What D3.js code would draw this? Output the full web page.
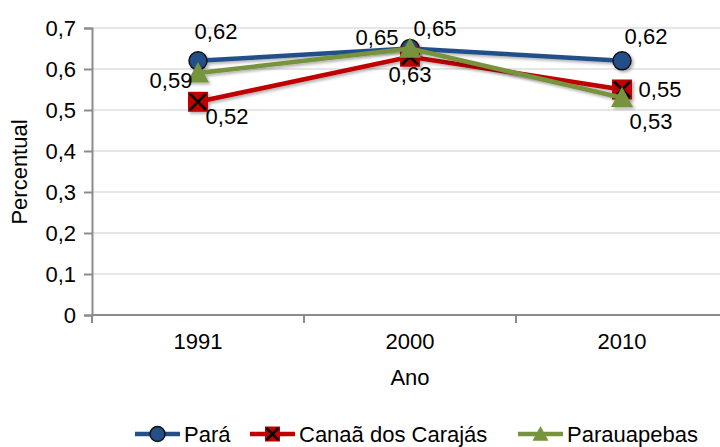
<!DOCTYPE html>
<html><head><meta charset="utf-8">
<script src="https://cdn.jsdelivr.net/npm/d3@7"></script>
<style>body{margin:0;background:#fff}svg{display:block;font-family:"Liberation Sans",Arial,sans-serif}</style>
</head><body><svg id="c" width="720" height="447"></svg>
<script>
const years = ["1991","2000","2010"];
const para = [0.62,0.65,0.62];
const canaa = [0.52,0.63,0.55];
const parauapebas = [0.59,0.65,0.53];
const seriesNames = ["Pará","Canaã dos Carajás","Parauapebas"];
const yTicks = [0,0.1,0.2,0.3,0.4,0.5,0.6,0.7];
// label placement offsets [dx, dy] per series per point
const labelPos = [
  [[18,-29],[-33,-11],[24,-24]],
  [[29,15],[0,18],[38,0]],
  [[-27,7],[25,-20],[29,24]]
];
const FS = 22;

const svg = d3.select("#c");
const x = d3.scaleBand().domain(years).range([92,728]);
const y = d3.scaleLinear().domain([0,0.7]).range([315,28]);
const fmt = v => d3.format(".2f")(v).replace(".",",");
const fmt1 = v => (v===0?"0":d3.format(".1f")(v).replace(".",","));

// gridlines
svg.append("g").selectAll("line").data(yTicks.slice(1)).join("line")
  .attr("x1",92).attr("x2",720).attr("y1",d=>y(d)).attr("y2",d=>y(d))
  .attr("stroke","#e6e6e6").attr("stroke-width",2);

// axes
const yAxis = svg.append("g").attr("transform","translate(92,0)")
  .call(d3.axisLeft(y).tickValues(yTicks).tickFormat(fmt1).tickSize(8).tickPadding(8));
const xAxis = svg.append("g").attr("transform","translate(0,315)")
  .call(d3.axisBottom(x).tickSize(0).tickPadding(18));
[yAxis,xAxis].forEach(a=>{
  a.select(".domain").attr("stroke","#8c8c8c").attr("stroke-width",2);
  a.selectAll("text").attr("font-size",FS).attr("fill","#000").attr("font-family","Liberation Sans, Arial, sans-serif");
});
yAxis.selectAll(".tick line").attr("stroke","#8c8c8c").attr("stroke-width",2);
xAxis.select(".domain").attr("d","M92,0H728");
// category boundary ticks
const bounds = years.map(d=>x(d)).concat([x("2010")+x.bandwidth()]);
svg.append("g").selectAll("line").data(bounds).join("line")
  .attr("x1",d=>d).attr("x2",d=>d).attr("y1",315).attr("y2",323)
  .attr("stroke","#8c8c8c").attr("stroke-width",2);

// axis titles
svg.append("text").attr("x",410).attr("y",377).attr("text-anchor","middle").attr("dominant-baseline","central").attr("font-size",FS).text("Ano");
svg.append("text").attr("transform","translate(19,172) rotate(-90)").attr("text-anchor","middle").attr("dominant-baseline","central").attr("font-size",FS).text("Percentual");

const colors = ["#245089","#c00000","#77933c"];
const data = [para,canaa,parauapebas];
const cx = d => x(d)+x.bandwidth()/2;

const defs = svg.append("defs");
const f = defs.append("filter").attr("id","sh").attr("x","-20%").attr("y","-20%").attr("width","150%").attr("height","150%");
f.append("feDropShadow").attr("dx",2).attr("dy",2).attr("stdDeviation",1.5).attr("flood-color","#000").attr("flood-opacity",0.3);

const line = d3.line().x((d,i)=>cx(years[i])).y(d=>y(d));

function marker(g, s, px, py, color, size){
  if(s===0){
    g.append("circle").attr("cx",px).attr("cy",py).attr("r",size||9).attr("fill",color).attr("stroke","#111").attr("stroke-width",1.5);
  } else if(s===1){
    const h=(size||20)/2;
    g.append("rect").attr("x",px-h).attr("y",py-h).attr("width",2*h).attr("height",2*h).attr("fill",color);
    const k=h*0.8;
    g.append("path").attr("d",`M${px-k},${py-k}L${px+k},${py+k}M${px+k},${py-k}L${px-k},${py+k}`).attr("stroke","#000").attr("stroke-width",2.5);
  } else {
    const h=(size||22)/2;
    g.append("path").attr("d",`M${px},${py-h}L${px+h},${py+h*0.85}L${px-h},${py+h*0.85}Z`).attr("fill",color);
  }
}

data.forEach((vals,s)=>{
  const g = svg.append("g").attr("filter","url(#sh)");
  g.append("path").attr("d",line(vals)).attr("fill","none").attr("stroke",colors[s]).attr("stroke-width",4.5);
  vals.forEach((v,i)=>marker(g,s,cx(years[i]),y(v),colors[s]));
});
data.forEach((vals,s)=>{
  vals.forEach((v,i)=>{
    svg.append("text").attr("x",cx(years[i])+labelPos[s][i][0]).attr("y",y(v)+labelPos[s][i][1])
      .attr("text-anchor","middle").attr("dominant-baseline","central").attr("font-size",FS).text(fmt(v));
  });
});

// legend
const legX = [135,250,518];
seriesNames.forEach((n,s)=>{
  const g = svg.append("g");
  const ly = 434;
  g.append("line").attr("x1",legX[s]).attr("x2",legX[s]+45).attr("y1",ly).attr("y2",ly).attr("stroke",colors[s]).attr("stroke-width",4.5);
  marker(g,s,legX[s]+22.5,ly,colors[s], s===0?7.5:(s===1?15:16));
  g.append("text").attr("x",legX[s]+49).attr("y",ly).attr("dominant-baseline","central").attr("font-size",FS).text(n);
});
</script></body></html>
